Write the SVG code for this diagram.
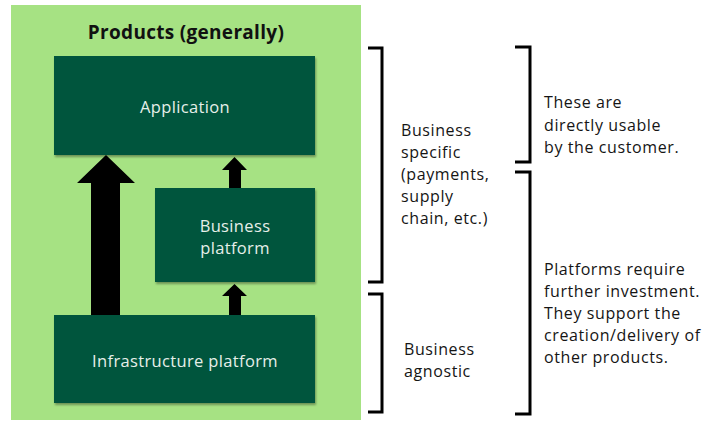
<svg xmlns="http://www.w3.org/2000/svg" width="708" height="421" viewBox="0 0 708 421">
  <defs>
    <filter id="shadow" x="-5%" y="-5%" width="112%" height="115%">
      <feDropShadow dx="1" dy="2" stdDeviation="1.2" flood-color="#000" flood-opacity="0.35"/>
    </filter>
  </defs>
  <style>
    .box { fill: #02553e; filter: url(#shadow); }
    .boxtext { font-family: "Open Sans", "Liberation Sans", sans-serif; font-size: 16.5px; letter-spacing: 0.35px; fill: #e6efe9; text-anchor: middle; }
    .note { font-family: "Open Sans", "Liberation Sans", sans-serif; font-size: 16px; letter-spacing: 0.6px; fill: #151515; }
    .title { font-family: "Open Sans", "Liberation Sans", sans-serif; font-size: 19px; font-weight: bold; letter-spacing: 0.3px; fill: #111; text-anchor: middle; }
    .arrow { fill: #000; }
    .bracket { fill: none; stroke: #000; stroke-width: 3; }
  </style>

  <!-- background panel -->
  <rect x="11" y="5" width="350" height="415" fill="#a6e283"/>
  <text class="title" x="186" y="39">Products (generally)</text>

  <!-- connectors -->
  <g id="connectors">
    <polygon class="arrow" points="91,315 91,183 77,183 106,155 135,183 120,183 120,315"/>
    <polygon class="arrow" points="229,188 229,170 222,170 234.5,157 247,170 241,170 241,188"/>
    <polygon class="arrow" points="229,315 229,296 222,296 234.5,284 247,296 241,296 241,315"/>
  </g>

  <g id="application">
    <rect class="box" x="54" y="56" width="261" height="99"/>
    <text class="boxtext" x="185" y="113">Application</text>
  </g>

  <g id="business-platform">
    <rect class="box" x="155" y="188" width="160" height="94"/>
    <text class="boxtext" x="235" y="232">Business</text>
    <text class="boxtext" x="235" y="254">platform</text>
  </g>

  <g id="infrastructure-platform">
    <rect class="box" x="54" y="315" width="261" height="88"/>
    <text class="boxtext" x="185" y="367">Infrastructure platform</text>
  </g>

  <!-- brackets -->
  <g id="brackets">
    <polyline class="bracket" points="368,48 382,48 382,282 368,282"/>
    <polyline class="bracket" points="368,294 382,294 382,412 368,412"/>
    <polyline class="bracket" points="515,47 530,47 530,162 515,162"/>
    <polyline class="bracket" points="515,172 530,172 530,414 515,414"/>
  </g>

  <g id="labels">
    <text class="note">
      <tspan x="401" y="136">Business</tspan>
      <tspan x="401" y="158">specific</tspan>
      <tspan x="401" y="180">(payments,</tspan>
      <tspan x="401" y="202">supply</tspan>
      <tspan x="401" y="224">chain, etc.)</tspan>
    </text>
    <text class="note">
      <tspan x="404" y="355">Business</tspan>
      <tspan x="404" y="377">agnostic</tspan>
    </text>
    <text class="note">
      <tspan x="544" y="108">These are</tspan>
      <tspan x="544" y="131">directly usable</tspan>
      <tspan x="544" y="153">by the customer.</tspan>
    </text>
    <text class="note">
      <tspan x="544" y="275">Platforms require</tspan>
      <tspan x="544" y="297">further investment.</tspan>
      <tspan x="544" y="319">They support the</tspan>
      <tspan x="544" y="341">creation/delivery of</tspan>
      <tspan x="544" y="363">other products.</tspan>
    </text>
  </g>
</svg>
